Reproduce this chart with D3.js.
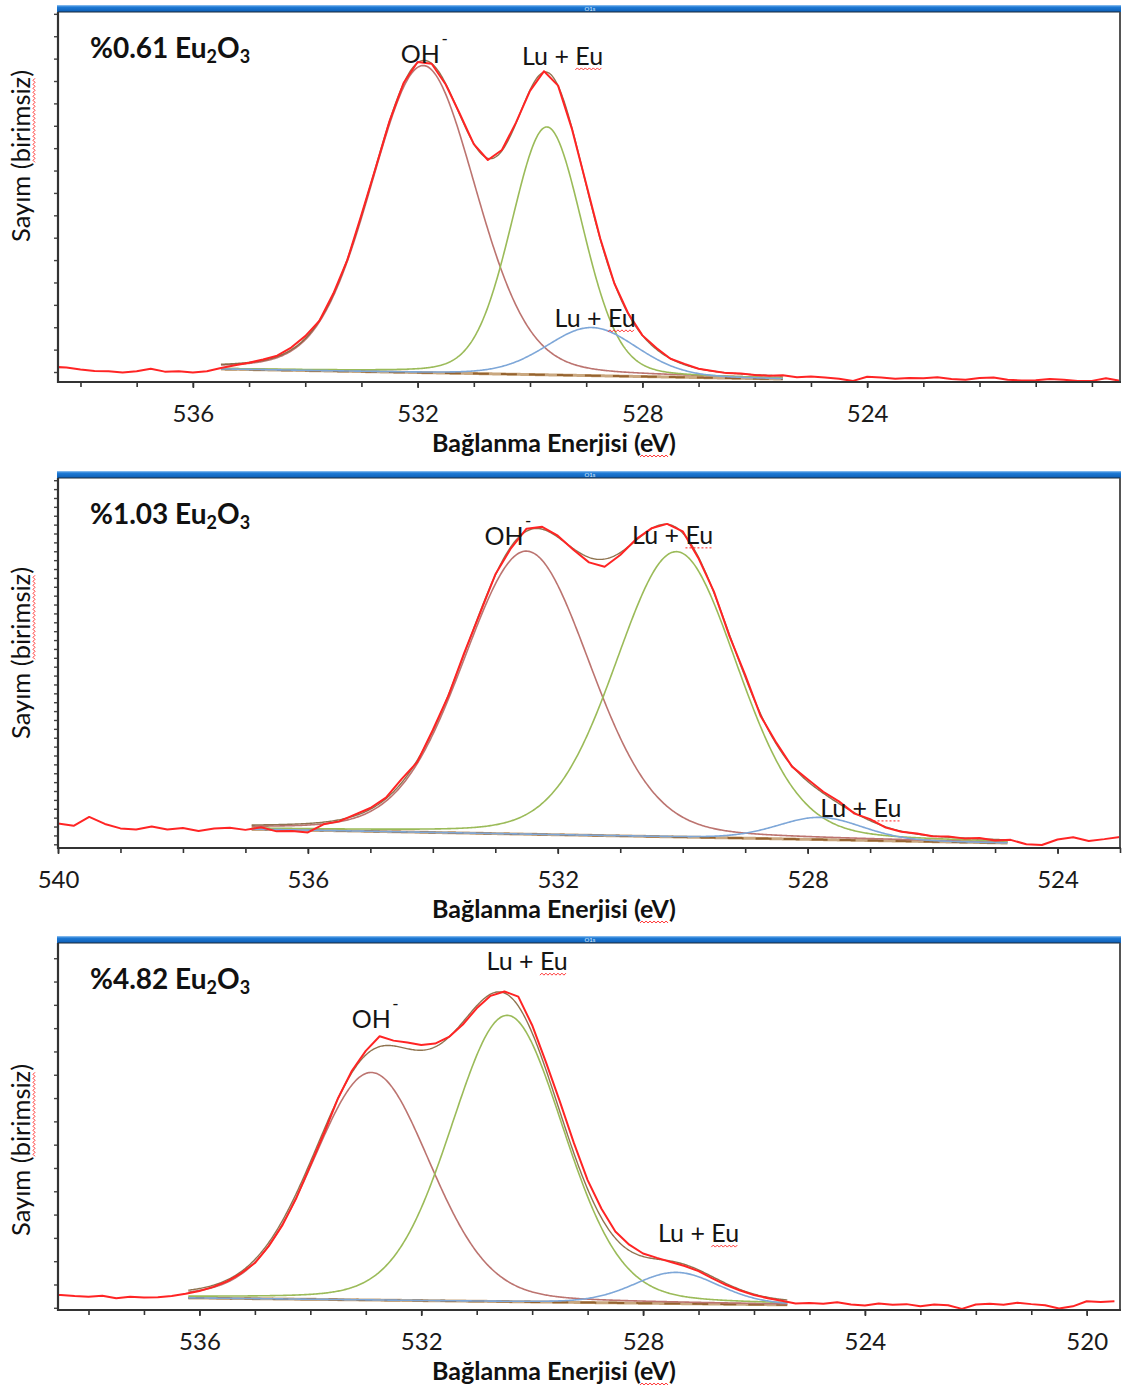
<!DOCTYPE html>
<html lang="tr">
<head>
<meta charset="utf-8">
<title>O1s XPS spektrumları</title>
<script src="https://cdn.jsdelivr.net/npm/d3@7/dist/d3.min.js"></script>
<style>
  html, body { margin: 0; padding: 0; background: #fff; }
  svg { display: block; }
</style>
</head>
<body>
<svg id="chart" width="1127" height="1392"></svg>
<script>
// ---------- measured O1s spectra (counts, arbitrary units, 0.25 eV steps) ----------
const sampleNames = ["%0.61", "%1.03", "%4.82"];
const gridStart = [538.5, 540.0, 538.75];
const gridStep = 0.25;

const counts1 = [4.1, 3.9, 3.4, 3.0, 2.9, 2.6, 2.9, 3.6, 2.8, 2.9, 2.6, 2.9, 3.8, 4.5, 5.2, 6.1, 7.1,
  9.3, 12.4, 16.5, 23.9, 33.0, 45.2, 57.7, 70.5, 80.8, 86.5, 86.0, 80.4, 72.5, 64.3, 60.0, 62.7,
  70.1, 78.7, 84.0, 80.1, 68.2, 53.5, 38.8, 26.7, 18.5, 12.6, 9.2, 6.3, 4.9, 3.6, 3.0, 2.4,
  2.3, 1.9, 1.7, 1.8, 1.3, 1.5, 1.2, 0.9, 0.3, 1.4, 1.2, 0.9, 1.1, 1.0, 1.3, 0.8,
  0.6, 1.1, 1.2, 0.6, 0.4, 0.5, 0.8, 0.6, 0.3, 0.3, 1.0, 0.3];

const counts2 = [6.6, 6.0, 8.4, 6.5, 5.3, 5.0, 5.8, 5.0, 5.4, 4.6, 5.3, 5.5, 4.9, 5.6, 4.5, 4.6,
  4.2, 6.4, 7.2, 9.0, 10.8, 13.6, 18.6, 23.2, 31.9, 41.2, 52.6, 63.2, 73.9, 81.0, 86.3, 86.8,
  84.4, 80.6, 77.2, 76.0, 79.2, 83.4, 86.4, 87.6, 85.6, 78.4, 69.3, 57.2, 46.8, 35.6, 28.4, 22.0,
  18.6, 15.2, 12.6, 9.3, 7.8, 5.5, 4.4, 3.9, 3.2, 3.1, 2.6, 2.7, 2.0, 2.2, 1.0, 0.8,
  2.3, 2.9, 1.9, 2.4, 3.0];

const counts3 = [4.2, 4.1, 3.8, 3.6, 3.9, 3.2, 3.6, 3.4, 3.5, 3.8, 4.4, 5.2, 6.3, 7.8, 10.0, 12.8, 17.4,
  23.2, 30.6, 39.4, 48.3, 57.7, 65.2, 70.6, 74.6, 73.4, 72.9, 72.2, 72.6, 74.4, 77.8, 82.2, 85.6,
  86.8, 85.4, 77.6, 67.5, 56.8, 45.6, 35.4, 27.6, 21.4, 17.8, 15.4, 14.2, 13.1, 12.0, 10.6, 8.6,
  6.8, 5.3, 4.1, 3.2, 2.5, 1.8, 1.9, 1.7, 2.1, 1.5, 1.2, 1.8, 1.4, 1.6, 1.0, 1.5,
  1.3, 0.3, 1.5, 1.7, 1.4, 2.0, 1.6, 1.3, 0.4, 1.0, 2.4, 2.2, 2.4];

// ---------- fitted components, order: OH-, Lu + Eu, Lu + Eu ----------
const centers1 = [531.9, 529.7, 528.9];
const fwhm1 = [2.2, 1.5, 1.9];
const heights1 = [83, 67, 13];

const centers2 = [532.5, 530.1, 527.8];
const fwhm2 = [2.4, 2.3, 1.6];
const heights2 = [76.5, 77.1, 6];

const centers3 = [532.9, 530.45, 527.4];
const fwhm3 = [2.5, 2.4, 1.8];
const heights3 = [62, 78, 8.5];

// linear background: [start eV, start counts, end eV, end counts]
const background1 = [535.5, 3.5, 525.5, 0.8];
const background2 = [536.9, 5.1, 524.8, 1.35];
const background3 = [536.2, 3.3, 525.4, 1.4];

// x-axis ranges (eV) and labelled ticks
const xRange1 = [538.4, 519.5];
const xRange2 = [540.0, 523.0];
const xRange3 = [538.55, 519.4];
const xLabels1 = [536, 532, 528, 524];
const xLabels2 = [540, 536, 532, 528, 524];
const xLabels3 = [536, 532, 528, 524, 520];

// unlabelled count ticks: [first, spacing]
const yTicks1 = [2.7, 6.05];
const yTicks2 = [1.0, 2.4];
const yTicks3 = [0.6, 6.35];

// peak annotations: [text, eV, counts]
const peakLabels1 = [["OH", 531.95, 86.2], ["Lu + Eu", 529.42, 85.7], ["Lu + Eu", 528.84, 14.9]];
const peakLabels2 = [["OH", 532.86, 81.9], ["Lu + Eu", 530.16, 82.2], ["Lu + Eu", 527.15, 8.4]];
const peakLabels3 = [["Lu + Eu", 530.09, 92.6], ["OH", 532.9, 76.8], ["Lu + Eu", 527.0, 18.5]];

// ---------- styling ----------
const compColors = ["#bc7470", "#9bbb59", "#7ea7d8"];
const dataColor = "#ff2424";
const envColor = "#7b5a30";
const FONT = "Lato, 'Open Sans', 'DejaVu Sans', sans-serif";
const MIX = 0.15; // Lorentzian fraction of the line shape

const LEFT = 58, RIGHT = 1120;
const layout = [
  { top: 12,  bottom: 382,  yTitle: 156 },
  { top: 478, bottom: 848,  yTitle: 653 },
  { top: 943, bottom: 1310, yTitle: 1150 }
];

const panels = [
  { counts: counts1, start: gridStart[0], centers: centers1, fwhm: fwhm1, heights: heights1,
    bg: background1, xr: xRange1, xl: xLabels1, yt: yTicks1, labels: peakLabels1, name: sampleNames[0], dotted: false },
  { counts: counts2, start: gridStart[1], centers: centers2, fwhm: fwhm2, heights: heights2,
    bg: background2, xr: xRange2, xl: xLabels2, yt: yTicks2, labels: peakLabels2, name: sampleNames[1], dotted: true },
  { counts: counts3, start: gridStart[2], centers: centers3, fwhm: fwhm3, heights: heights3,
    bg: background3, xr: xRange3, xl: xLabels3, yt: yTicks3, labels: peakLabels3, name: sampleNames[2], dotted: false }
];

function peakShape(e, c, w) {
  const q = 4 * (e - c) * (e - c) / (w * w);
  return (1 - MIX) * Math.pow(2, -q) + MIX / (1 + q);
}

const svg = d3.select("#chart");
const defs = svg.append("defs");
const grad = defs.append("linearGradient").attr("id", "barGrad")
  .attr("x1", 0).attr("x2", 0).attr("y1", 0).attr("y2", 1);
grad.append("stop").attr("offset", "0%").attr("stop-color", "#9cc8f2");
grad.append("stop").attr("offset", "28%").attr("stop-color", "#1f7bd6");
grad.append("stop").attr("offset", "100%").attr("stop-color", "#0c5db5");

// red spell-check style wavy underline
function squiggle(parent, x0, x1, yy, dotted) {
  if (dotted) {
    parent.append("line").attr("x1", x0).attr("x2", x1).attr("y1", yy).attr("y2", yy)
      .attr("stroke", "#ff2020").attr("stroke-width", 1).attr("stroke-dasharray", "2,2");
    return;
  }
  const pts = [];
  for (let k = 0; x0 + 2 * k <= x1; k++) pts.push([x0 + 2 * k, yy + (k % 2 ? -1 : 1)]);
  parent.append("path").attr("d", d3.line()(pts)).attr("fill", "none")
    .attr("stroke", "#ff2020").attr("stroke-width", 0.9);
}

panels.forEach((p, i) => {
  const L = layout[i];
  const x = d3.scaleLinear().domain(p.xr).range([LEFT, RIGHT]);
  const y = d3.scaleLinear().domain([0, 100]).range([L.bottom, L.top]);
  const g = svg.append("g").attr("class", "panel");

  defs.append("clipPath").attr("id", "clip" + i).append("rect")
    .attr("x", LEFT).attr("y", L.top).attr("width", RIGHT - LEFT).attr("height", L.bottom - L.top);

  // header bar
  g.append("rect").attr("x", LEFT - 1).attr("y", L.top - 7).attr("width", RIGHT - LEFT + 2).attr("height", 7)
    .attr("fill", "url(#barGrad)");
  g.append("text").attr("x", 590).attr("y", L.top - 1.5).attr("text-anchor", "middle")
    .attr("font-family", FONT).attr("font-size", 6).attr("fill", "#d8ecff").text("O1s");

  const plot = g.append("g").attr("clip-path", `url(#clip${i})`);
  const line = d3.line().x(d => x(d[0])).y(d => y(d[1]));

  // background and fitted components
  const [e0, b0, e1, b1] = p.bg;
  const bgAt = e => b0 + (b1 - b0) * (e - e0) / (e1 - e0);
  const fine = d3.range(e0, e1 - 0.001, -0.02).concat([e1]);

  plot.append("path").datum(fine.map(e => [e, bgAt(e)])).attr("d", line)
    .attr("fill", "none").attr("stroke", "#c9a77f").attr("stroke-width", 3);
  plot.append("path").datum(fine.map(e => [e, bgAt(e)])).attr("d", line)
    .attr("fill", "none").attr("stroke", "#95632f").attr("stroke-width", 2).attr("stroke-dasharray", "16,12");

  p.centers.forEach((c, k) => {
    plot.append("path")
      .datum(fine.map(e => [e, bgAt(e) + p.heights[k] * peakShape(e, c, p.fwhm[k])]))
      .attr("d", line).attr("fill", "none").attr("stroke", compColors[k]).attr("stroke-width", 1.6);
  });

  plot.append("path")
    .datum(fine.map(e => [e, bgAt(e) + d3.sum(p.centers, (c, k) => p.heights[k] * peakShape(e, c, p.fwhm[k]))]))
    .attr("d", line).attr("fill", "none").attr("stroke", envColor).attr("stroke-width", 1.4).attr("opacity", 0.85);

  // measured counts
  const pts = p.counts.map((v, j) => [p.start - gridStep * j, v]);
  plot.append("path").datum(pts).attr("d", line).attr("fill", "none")
    .attr("stroke", dataColor).attr("stroke-width", 2).attr("stroke-linejoin", "round");

  // axes
  const minor = d3.range(Math.ceil(p.xr[1]), Math.floor(p.xr[0]) + 1, 1);
  g.append("g").attr("transform", `translate(0,${L.bottom})`)
    .call(d3.axisBottom(x).tickValues(minor).tickSize(5).tickFormat(""))
    .call(s => s.select(".domain").remove())
    .call(s => s.selectAll("line").attr("stroke", "#333").attr("stroke-width", 1.6));
  g.append("g").attr("transform", `translate(0,${L.bottom})`)
    .call(d3.axisBottom(x).tickValues(p.xl).tickSize(6).tickPadding(17).tickFormat(d3.format("d")))
    .call(s => s.select(".domain").remove())
    .call(s => s.selectAll("line").attr("stroke", "#333").attr("stroke-width", 1.6))
    .call(s => s.selectAll("text").attr("font-family", FONT).attr("font-size", 24).attr("fill", "#1a1a1a"));

  const yt = d3.range(p.yt[0], 100, p.yt[1]);
  g.append("g").attr("transform", `translate(${LEFT},0)`)
    .call(d3.axisLeft(y).tickValues(yt).tickSize(4).tickFormat(""))
    .call(s => s.select(".domain").remove())
    .call(s => s.selectAll("line").attr("stroke", "#444").attr("stroke-width", 1.4));

  // frame
  g.append("line").attr("x1", LEFT).attr("x2", RIGHT).attr("y1", L.top).attr("y2", L.top)
    .attr("stroke", "#1b2a3a").attr("stroke-width", 1.2);
  g.append("line").attr("x1", RIGHT).attr("x2", RIGHT).attr("y1", L.top).attr("y2", L.bottom)
    .attr("stroke", "#555").attr("stroke-width", 2);
  g.append("line").attr("x1", LEFT).attr("x2", LEFT).attr("y1", L.top).attr("y2", L.bottom + 1)
    .attr("stroke", "#333").attr("stroke-width", 2.2);
  g.append("line").attr("x1", LEFT).attr("x2", RIGHT + 1).attr("y1", L.bottom).attr("y2", L.bottom)
    .attr("stroke", "#333").attr("stroke-width", 2.2);

  // sample title
  const t = g.append("text").attr("x", 90).attr("y", L.top + 46)
    .attr("font-family", FONT).attr("font-weight", "bold").attr("font-size", 28).attr("fill", "#111");
  t.append("tspan").text(p.name + " Eu");
  t.append("tspan").attr("font-size", 18).attr("dy", 5).text("2");
  t.append("tspan").attr("dy", -5).text("O");
  t.append("tspan").attr("font-size", 18).attr("dy", 5).text("3");

  // peak annotations
  p.labels.forEach(([txt, e, v]) => {
    const lx = x(e), ly = y(v);
    const te = g.append("text").attr("x", lx).attr("y", ly).attr("text-anchor", "middle")
      .attr("font-family", FONT).attr("font-size", 25).attr("fill", "#151515").text(txt);
    if (txt === "OH") {
      g.append("text").attr("x", lx + 21).attr("y", ly - 18)
        .attr("font-family", FONT).attr("font-size", 17).attr("fill", "#151515").text("-");
    } else {
      const node = te.node();
      const a = node.getStartPositionOfChar(5).x;
      const b = node.getEndPositionOfChar(6).x;
      squiggle(g, a, b, ly + 4, p.dotted);
    }
  });

  // axis titles
  const xt = g.append("text").attr("x", 554).attr("y", L.bottom + 70).attr("text-anchor", "middle")
    .attr("font-family", FONT).attr("font-weight", "bold").attr("font-size", 25).attr("fill", "#111")
    .text("Bağlanma Enerjisi (eV)");
  {
    const n = xt.node();
    squiggle(g, n.getStartPositionOfChar(19).x, n.getEndPositionOfChar(20).x, L.bottom + 74, false);
  }

  const yg = g.append("g").attr("transform", `translate(30,${L.yTitle}) rotate(-90)`);
  const ytx = yg.append("text").attr("x", 0).attr("y", 0).attr("text-anchor", "middle")
    .attr("font-family", FONT).attr("font-size", 25.5).attr("fill", "#111").text("Sayım (birimsiz)");
  {
    const n = ytx.node();
    squiggle(yg, n.getStartPositionOfChar(7).x, n.getEndPositionOfChar(14).x, 4, false);
  }
});
</script>
</body>
</html>
